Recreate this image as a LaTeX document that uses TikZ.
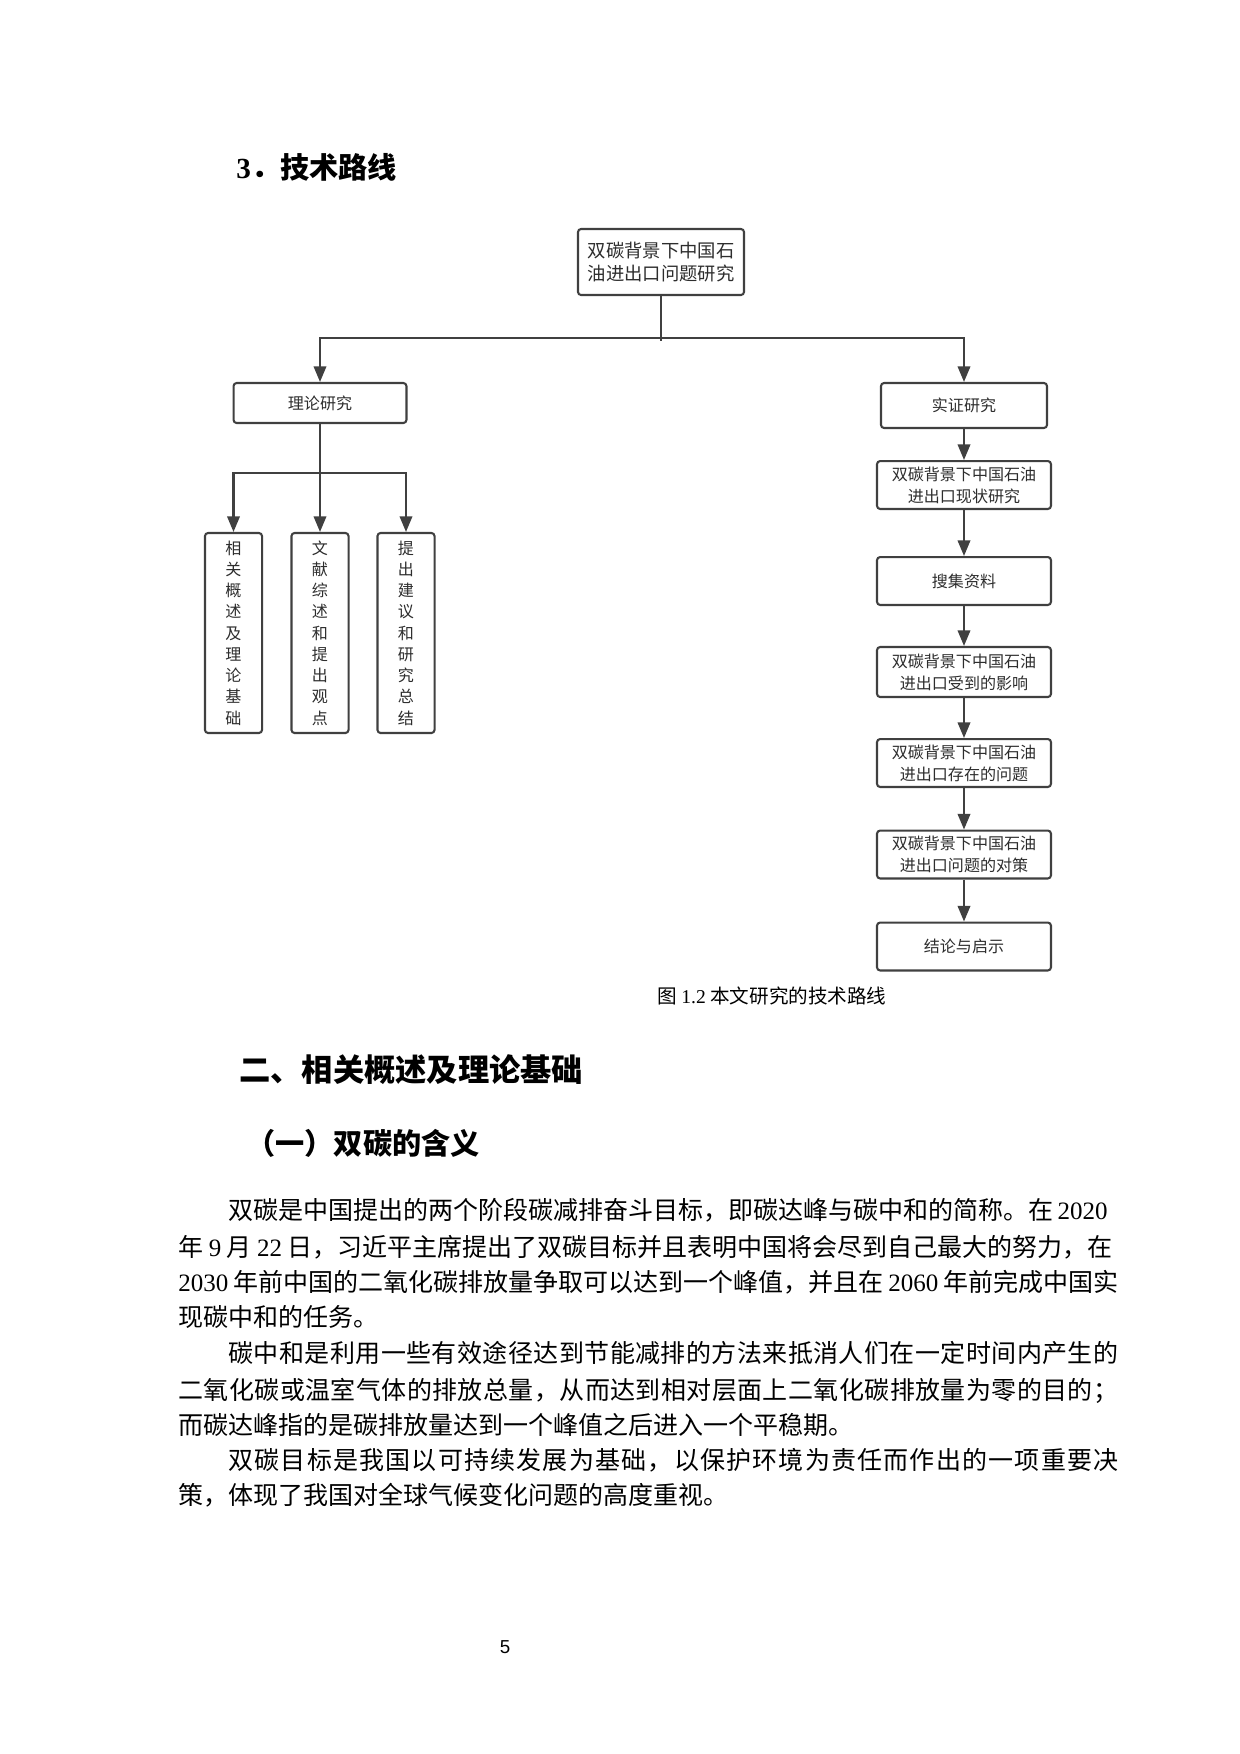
\documentclass[tikz,border=0pt]{standalone}
\usepackage{xcolor}
\usepackage{fontspec}
\setmainfont{Noto Sans CJK SC}
\newfontfamily\latinfont{Liberation Serif}
\newfontfamily\pagefont{Liberation Sans}
\usepackage{tikz}
\usetikzlibrary{positioning, arrows.meta}

\definecolor{linegray}{RGB}{64,64,64}
\definecolor{textgray}{RGB}{45,45,45}
\newcommand{\latn}[1]{{\latinfont #1}}
% spread one line of text to a fixed width
\def\endspread{endspread}
\def\spreadfirst#1{#1\spreadrest}
\def\spreadrest#1{\ifx\endspread#1\else\hskip 0pt plus 1fil #1\expandafter\spreadrest\fi}
\newcommand{\spreadline}[2]{\hbox to #1{\spreadfirst#2\endspread}}

\tikzset{
  box/.style={draw=linegray, line width=1pt, rounded corners=1.5pt, fill=white, inner sep=0pt, align=center, text=textgray, font=\fontsize{7.7}{10.5}\selectfont},
  widebox/.style={box, minimum width=83.5pt, minimum height=23pt},
  tallbox/.style={box, minimum width=27.4pt, minimum height=96pt, font=\fontsize{7.7}{10.2}\selectfont},
  line/.style={draw=linegray, line width=1pt},
  arrow/.style={line, -{Triangle[length=7.5pt, width=6pt]}},
  bodyline/.style={anchor=west, inner sep=0pt, font=\fontsize{12}{12}\selectfont, text height=10.5pt, text depth=1.5pt},
}

\begin{document}
\begin{tikzpicture}[x=0.48pt,y=0.48pt,yscale=-1]
\useasboundingbox (0,0) rectangle (1240,1754);

% Text Node
\node [anchor=west, inner sep=0pt, font=\bfseries\fontsize{14}{14}\selectfont] (heading) at (236,167) {\latn{3}．技术路线};

\node [box, minimum width=79.7pt, minimum height=31.7pt, font=\fontsize{8.8}{11}\selectfont] (topic) at (661,262) {双碳背景下中国石\\油进出口问题研究};
\node [box, minimum width=83pt, minimum height=19.2pt] (theory) at (320,403) {理论研究};
\node [box, minimum width=79.7pt, minimum height=21.6pt] (empir) at (964,405.5) {实证研究};

\node [tallbox] (basis) at (233.5,633) {相\\关\\概\\述\\及\\理\\论\\基\\础};
\node [tallbox] (review) at (320,633) {文\\献\\综\\述\\和\\提\\出\\观\\点};
\node [tallbox] (advice) at (406,633) {提\\出\\建\\议\\和\\研\\究\\总\\结};

\node [widebox] (status) at (964,485) {双碳背景下中国石油\\进出口现状研究};
\node [widebox] (collect) at (964,581) {搜集资料};
\node [widebox, minimum height=24pt] (impact) at (964,672) {双碳背景下中国石油\\进出口受到的影响};
\node [widebox] (problem) at (964,763) {双碳背景下中国石油\\进出口存在的问题};
\node [widebox] (measure) at (964,854.5) {双碳背景下中国石油\\进出口问题的对策};
\node [widebox] (concl) at (964,946.5) {结论与启示};

\coordinate (split) at (661,338);
\coordinate (fork) at (320,473);
\draw [line] (topic.south) -- (split) -- ++(0,3);
\draw [arrow] (split) -| (theory.north);
\draw [arrow] (split) -| (empir.north);
\draw [arrow] (theory.south) -- (review.north);
\draw [arrow] (fork) -| (basis.north);
\draw [arrow] (fork) -| (advice.north);
\draw [arrow] (empir) -- (status);
\draw [arrow] (status) -- (collect);
\draw [arrow] (collect) -- (impact);
\draw [arrow] (impact) -- (problem);
\draw [arrow] (problem) -- (measure);
\draw [arrow] (measure) -- (concl);

% Text Node
\node [anchor=west, inner sep=0pt, font=\fontsize{9.4}{9.4}\selectfont] (caption) at (657,996) {图 \latn{1.2} 本文研究的技术路线};
% Text Node
\node [anchor=west, inner sep=0pt, font=\bfseries\fontsize{15}{15}\selectfont] (section) at (239,1070) {二、相关概述及理论基础};
% Text Node
\node [anchor=west, inner sep=0pt, font=\bfseries\fontsize{14}{14}\selectfont] (subsec) at (246,1143) {（一）双碳的含义};

\node [bodyline] (p1a) at (228,1210) {\spreadline{421.4pt}{双碳是中国提出的两个阶段碳减排奋斗目标，即碳达峰与碳中和的简称。在{\latn{ 2020}}}};
\node [bodyline] (p1b) at (178,1247) {\spreadline{448.3pt}{年{\latn{ 9 }}月{\latn{ 22 }}日，习近平主席提出了双碳目标并且表明中国将会尽到自己最大的努力，在}};
\node [bodyline] (p1c) at (178,1282) {\spreadline{451.2pt}{{\latn{2030 }}年前中国的二氧化碳排放量争取可以达到一个峰值，并且在{\latn{ 2060 }}年前完成中国实}};
\node [bodyline] (p1d) at (178,1317) {现碳中和的任务。};
\node [bodyline] (p2a) at (228,1353) {\spreadline{427.2pt}{碳中和是利用一些有效途径达到节能减排的方法来抵消人们在一定时间内产生的}};
\node [bodyline] (p2b) at (178,1390) {\spreadline{451.2pt}{二氧化碳或温室气体的排放总量，从而达到相对层面上二氧化碳排放量为零的目的；}};
\node [bodyline] (p2c) at (178,1425) {而碳达峰指的是碳排放量达到一个峰值之后进入一个平稳期。};
\node [bodyline] (p3a) at (228,1460) {\spreadline{427.2pt}{双碳目标是我国以可持续发展为基础，以保护环境为责任而作出的一项重要决}};
\node [bodyline] (p3b) at (178,1495) {策，体现了我国对全球气候变化问题的高度重视。};

% Text Node
\node [inner sep=0pt, font={\pagefont\fontsize{9}{9}\selectfont}] (pageno) at (505,1647) {5};
\end{tikzpicture}
\end{document}
